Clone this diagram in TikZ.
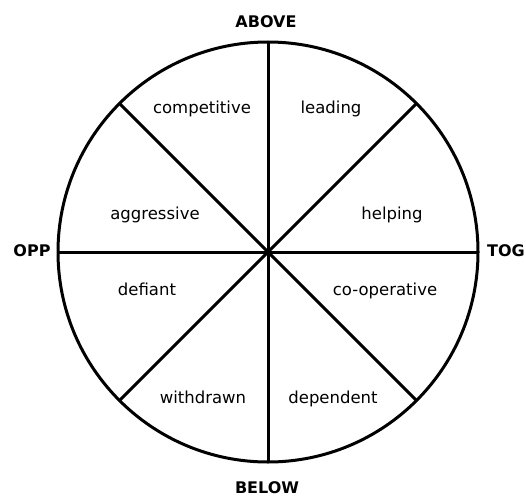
\documentclass[tikz,border=0pt]{standalone}
\usepackage{fontspec}
\setmainfont{DejaVu Sans}
\usepackage{tikz}

\begin{document}
\begin{tikzpicture}[x=1pt,y=-1pt]
	\tikzstyle{every node}+=[inner sep=0pt]
	\tikzstyle{axis}=[font=\fontsize{16}{19}\selectfont\bfseries]
	\tikzstyle{sector}=[font=\fontsize{16.5}{19}\selectfont, text height=12pt, text depth=3.5pt]
	\useasboundingbox (0,0) rectangle (526,497);
	\node [draw=black, line width=3pt, circle, minimum size=420pt, outer sep=0pt] (wheel) at (268,252) {};
	\draw [black, line width=3pt] (wheel.north) -- (wheel.south);
	\draw [black, line width=3pt] (wheel.west) -- (wheel.east);
	\draw [black, line width=3pt] (wheel.north west) -- (wheel.south east);
	\draw [black, line width=3pt] (wheel.north east) -- (wheel.south west);
	% poles
	\node [axis] (above) at (266,22) {ABOVE};
	\node [axis] (below) at (267,488) {BELOW};
	\node [axis] (opp) at (32,251) {OPP};
	\node [axis] (tog) at (506,251) {TOG};
	% sectors
	\node [sector] (competitive) at (202,109) {competitive};
	\node [sector] (leading) at (331,109) {leading};
	\node [sector] (aggressive) at (155,215) {aggressive};
	\node [sector] (helping) at (392,215) {helping};
	\node [sector] (defiant) at (147,291) {defiant};
	\node [sector] (cooperative) at (385,291) {co-operative};
	\node [sector] (withdrawn) at (203,399) {withdrawn};
	\node [sector] (dependent) at (333,399) {dependent};
\end{tikzpicture}
\end{document}
